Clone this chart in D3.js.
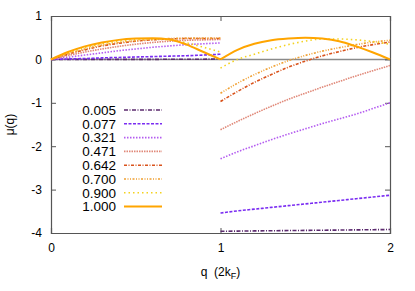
<!DOCTYPE html>
<html>
<head>
<meta charset="utf-8">
<script src="https://cdn.jsdelivr.net/npm/d3@7"></script>
<style>
  body { margin: 0; background: #fff; }
  svg { display: block; font-family: Arial, "Liberation Sans", sans-serif; }
</style>
</head>
<body>
<div id="root"></div>
<script>
// fillings shown in the key
const fillings = ['0.005', '0.077', '0.321', '0.471', '0.642', '0.700', '0.900', '1.000'];

// q grid for the two branches
const qLow = [0, 0.1, 0.2, 0.3, 0.4, 0.5, 0.6, 0.7, 0.8, 0.9, 1.0];
const qHigh = [1.0, 1.1, 1.2, 1.3, 1.4, 1.5, 1.6, 1.7, 1.8, 1.9, 2.0];

// mu(q) on 0 < q < 1, one row per filling
const muLow = [
    [0, 0, 0, 0, 0, 0, 0, 0.005, 0.005, 0.005, 0.01],
    [0, 0.01, 0.02, 0.035, 0.045, 0.055, 0.065, 0.075, 0.085, 0.1, 0.12],
    [0, 0.05, 0.1, 0.15, 0.2, 0.24, 0.28, 0.31, 0.34, 0.36, 0.38],
    [0, 0.09, 0.17, 0.24, 0.3, 0.35, 0.39, 0.42, 0.44, 0.45, 0.46],
    [0, 0.12, 0.22, 0.31, 0.37, 0.42, 0.45, 0.47, 0.48, 0.48, 0.48],
    [0, 0.13, 0.24, 0.33, 0.39, 0.43, 0.46, 0.48, 0.49, 0.49, 0.49],
    [0, 0.15, 0.27, 0.36, 0.42, 0.46, 0.47, 0.45, 0.38, 0.28, 0.17],
    [0, 0.17, 0.3, 0.39, 0.45, 0.48, 0.49, 0.46, 0.34, 0.17, 0]
];

// mu(q) on 1 < q < 2
const muHigh = [
    [-3.96, -3.956, -3.952, -3.948, -3.944, -3.94, -3.936, -3.932, -3.928, -3.924, -3.92],
    [-3.54, -3.49, -3.45, -3.41, -3.37, -3.33, -3.29, -3.25, -3.21, -3.17, -3.13],
    [-2.29, -2.13, -1.99, -1.85, -1.72, -1.6, -1.48, -1.37, -1.26, -1.13, -1.0],
    [-1.62, -1.43, -1.25, -1.08, -0.92, -0.78, -0.64, -0.51, -0.38, -0.26, -0.14],
    [-0.97, -0.74, -0.53, -0.35, -0.18, -0.04, 0.08, 0.18, 0.27, 0.34, 0.4],
    [-0.78, -0.55, -0.35, -0.18, -0.03, 0.09, 0.19, 0.27, 0.34, 0.4, 0.44],
    [-0.2, 0.0, 0.12, 0.24, 0.34, 0.42, 0.47, 0.47, 0.45, 0.41, 0.35],
    [0, 0.22, 0.36, 0.44, 0.48, 0.5, 0.48, 0.42, 0.3, 0.16, 0]
];

const yTicks = [1, 0, -1, -2, -3, -4];
const xTicks = [0, 1, 2];

// line look for each filling
const lineColors = ['#5b2a6e', '#7a2cf2', '#b45cf0', '#e08878', '#d9531c', '#f0a032', '#f4d21e', '#ffa500'];
const lineDashes = ['4,1.5,1,1.5', '3,1.5', '1.5,1.5', '1.5,1', '3,1.5,1,1.5', '2,1.5,1,1.5,1,1.5', '1.5,3', null];
const lineWidths = [1.6, 1.6, 1.6, 1.6, 1.6, 1.6, 1.6, 2];

let width = 415,
    height = 291,
    margin = { top: 16, right: 25, bottom: 58, left: 51 };

let svg = d3.select('#root')
    .append('svg')
    .attr('width', width)
    .attr('height', height);

let x = d3.scaleLinear().domain([0, 2]).range([margin.left, width - margin.right]),
    y = d3.scaleLinear().domain([-4, 1]).range([height - margin.bottom, margin.top]);

// zero line
svg.append('line')
    .attr('x1', x(0)).attr('x2', x(2))
    .attr('y1', y(0)).attr('y2', y(0))
    .style('stroke', '#8a8a8a')
    .style('stroke-width', 1.5);

// axes with inward ticks, mirrored on top and right
let tickLen = 5;
svg.append('g')
    .attr('transform', `translate(0,${y(-4)})`)
    .call(d3.axisBottom(x).tickValues(xTicks).tickSize(-tickLen).tickPadding(10).tickFormat(d3.format('d')));
svg.append('g')
    .attr('transform', `translate(0,${y(1)})`)
    .call(d3.axisTop(x).tickValues(xTicks).tickSize(-tickLen).tickFormat(''));
svg.append('g')
    .attr('transform', `translate(${x(0)},0)`)
    .call(d3.axisLeft(y).tickValues(yTicks).tickSize(-tickLen).tickPadding(9).tickFormat(d => d3.format('d')(d).replace('\u2212', '-')));
svg.append('g')
    .attr('transform', `translate(${x(2)},0)`)
    .call(d3.axisRight(y).tickValues(yTicks).tickSize(-tickLen).tickFormat(''));

svg.selectAll('.domain').style('stroke', '#555').style('stroke-width', 1.2);
svg.selectAll('.tick line').style('stroke', '#555');
svg.selectAll('.tick text').style('font-size', '12px').style('fill', '#000')
    .style('font-family', 'Arial, "Liberation Sans", sans-serif');

// curves
let line = d3.line()
    .x(d => x(d[0]))
    .y(d => y(d[1]))
    .curve(d3.curveMonotoneX);

let curves = svg.append('g').attr('class', 'curves');

fillings.forEach((f, i) => {
    [[qLow, muLow[i]], [qHigh, muHigh[i]]].forEach(([qs, mus]) => {
        curves.append('path')
            .datum(qs.map((q, j) => [q, mus[j]]))
            .attr('d', line)
            .style('fill', 'none')
            .style('stroke', lineColors[i])
            .style('stroke-width', lineWidths[i])
            .style('stroke-dasharray', lineDashes[i]);
    });
});

// key
let key = svg.append('g').attr('class', 'key');
fillings.forEach((f, i) => {
    let ky = 110 + i * 13.8;
    key.append('text')
        .attr('x', 116)
        .attr('y', ky)
        .attr('dy', '0.35em')
        .attr('text-anchor', 'end')
        .style('font-size', '13.5px')
        .text(f);
    key.append('line')
        .attr('x1', 124).attr('x2', 162)
        .attr('y1', ky).attr('y2', ky)
        .style('stroke', lineColors[i])
        .style('stroke-width', lineWidths[i])
        .style('stroke-dasharray', lineDashes[i]);
});

// axis titles
let xTitle = svg.append('text')
    .attr('x', x(1))
    .attr('y', 276)
    .attr('text-anchor', 'middle')
    .style('font-size', '12px');
xTitle.append('tspan').text('q\u00a0\u00a0(2k');
xTitle.append('tspan').attr('dy', 3).style('font-size', '9px').text('F');
xTitle.append('tspan').attr('dy', -3).text(')');

svg.append('text')
    .attr('transform', `translate(14,${(y(1) + y(-4)) / 2}) rotate(-90)`)
    .attr('text-anchor', 'middle')
    .style('font-size', '12px')
    .text('\u03bc(q)');
</script>
</body>
</html>
